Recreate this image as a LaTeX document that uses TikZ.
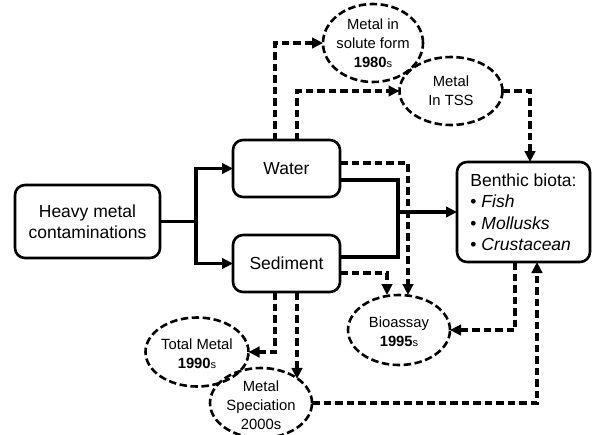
\documentclass[tikz,border=0pt]{standalone}
\usepackage{fontspec}
\setmainfont{Liberation Sans}
\newcommand*{\boxfont}{\fontsize{17.5}{20.5}\selectfont}
\newcommand*{\listfont}{\fontsize{17.5}{21.5}\selectfont}
\newcommand*{\ovalfont}{\fontsize{14.8}{19}\selectfont}
\newcommand*{\yearfont}[1]{\textbf{#1}{\fontsize{11}{19}\selectfont s}}
\usepackage{tikz}
\usetikzlibrary{arrows.meta}
\usetikzlibrary{positioning}
\usetikzlibrary{shapes.geometric}
\tikzstyle{base}=[x=1pt, y=-1pt, inner sep=0pt, outer sep=0pt]
\tikzstyle{box}=[draw, line width=2.6pt, rounded corners=10pt, align=center, font=\boxfont]
\tikzstyle{oval}=[draw, ellipse, line width=2.6pt, dash pattern=on 7.5pt off 3.5pt]
\tikzstyle{ovaltext}=[align=center, font=\ovalfont]
\tikzstyle{flow}=[line width=3.1pt]
\tikzstyle{flowarrow}=[flow, -{Triangle[length=11pt,width=10.5pt]}]
\tikzstyle{dashflow}=[flowarrow, dash pattern=on 7.5pt off 4pt]

\begin{document}
\begin{tikzpicture}[base]
    \path [use as bounding box] (0,0) rectangle (592,434);
        \node [box, minimum width=145pt, minimum height=73pt] (heavy) at (87.5,221.5) {Heavy metal\\contaminations};
        \node [box, minimum width=107pt, minimum height=57pt] (water) at (286.5,168.5) {Water};
        \node [box, minimum width=107pt, minimum height=57pt] (sediment) at (286.5,263.5) {Sediment};
        \node [box, minimum width=133pt, minimum height=100pt, align=left, font=\listfont] (biota) at (523.5,212)
            {Benthic biota:\\\textbullet\ \textit{Fish}\\\textbullet\ \textit{Mollusks}\\\textbullet\ \textit{Crustacean}};
        \node [oval, minimum width=100pt, minimum height=78pt] (solute) at (373,43) {};
        \node [ovaltext] (solutetext) at (solute.center) {Metal in\\solute form\\\yearfont{1980}};
        \node [oval, minimum width=103pt, minimum height=68pt] (tss) at (451,91) {};
        \node [ovaltext] (tsstext) at (tss.center) {Metal\\In TSS};
        \node [oval, minimum width=102pt, minimum height=70pt] (bioassay) at (399,330) {};
        \node [ovaltext] (bioassaytext) at ([yshift=-2pt]bioassay.center) {Bioassay\\\yearfont{1995}};
        \node [oval, minimum width=103pt, minimum height=69pt] (total) at (197,352) {};
        \node [ovaltext] (totaltext) at ([yshift=-2pt]total.center) {Total Metal\\\yearfont{1990}};
        \node [oval, minimum width=102pt, minimum height=70pt] (speciation) at (261,403) {};
        \node [ovaltext] (speciationtext) at ([yshift=-2pt]speciation.center) {Metal\\Speciation\\2000s};
        \coordinate (split) at (196,221.5);
        \coordinate (merge) at (398,212);
        \coordinate (specin) at ([xshift=10.5pt]sediment.south);
        \draw [flow] (heavy.east) -- (split);
        \draw [flowarrow] (split) |- (water.west);
        \draw [flowarrow] (split) |- (sediment.west);
        \draw [flow] ([yshift=-11.5pt]water.east) -| (merge);
        \draw [flow] ([yshift=6.5pt]sediment.east) -| (merge);
        \draw [flowarrow] (merge) -- (biota.west);
        \draw [dashflow] ([xshift=-11.5pt]water.north) |- (solute.west);
        \draw [dashflow] ([xshift=10.5pt]water.north) |- (tss.west);
        \draw [dashflow] (tss.east) -| ([xshift=6.5pt]biota.north);
        \draw [dashflow] ([yshift=5.5pt]water.east) -| ([xshift=9pt]bioassay.north);
        \draw [dashflow] ([yshift=-9.5pt]sediment.east) -| ([xshift=-12pt]bioassay.north);
        \draw [dashflow] ([xshift=-11.5pt]sediment.south) |- (total.east);
        \draw [dashflow] (specin) -- (specin |- speciation.33);
        \draw [dashflow] ([xshift=-8.5pt]biota.south) |- (bioassay.east);
        \draw [dashflow] (speciation.east) -| ([xshift=13.5pt]biota.south);
    \end{tikzpicture}
\end{document}
